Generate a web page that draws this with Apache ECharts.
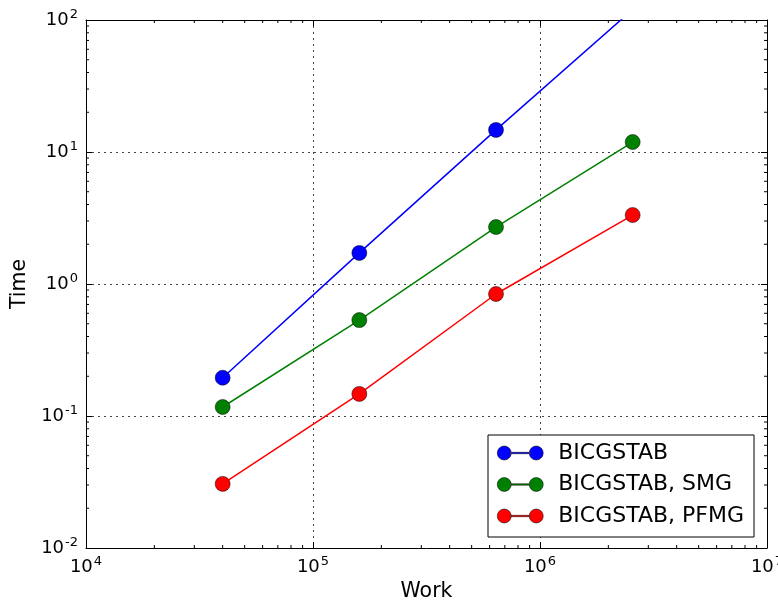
<!DOCTYPE html>
<html>
<head>
<meta charset="utf-8">
<script src="https://cdn.jsdelivr.net/npm/echarts@6/dist/echarts.min.js"></script>
<style>html,body{margin:0;padding:0;background:#fff}#c{width:778px;height:605px}</style>
</head>
<body>
<div id="c"></div>
<script>
const work = [40000, 160000, 640000, 2560000];
const seriesNames = ['BICGSTAB', 'BICGSTAB, SMG', 'BICGSTAB, PFMG'];
const timeBicgstab = [0.195, 1.72, 14.7, 120];
const timeSmg = [0.117, 0.533, 2.70, 11.9];
const timePfmg = [0.0306, 0.147, 0.84, 3.33];
const seriesColors = ['#0000ff', '#008000', '#ff0000'];
const xMinorTicks = [];
for (let e = 4; e < 7; e++) for (let m = 2; m <= 9; m++) xMinorTicks.push(m * Math.pow(10, e));
const yMinorTicks = [];
for (let e = -2; e < 2; e++) for (let m = 2; m <= 9; m++) yMinorTicks.push(m * Math.pow(10, e));

const FONT = 'DejaVu Sans';
const chart = echarts.init(document.getElementById('c'), null, {renderer: 'canvas'});

function supLabel(v) {
  const e = Math.round(Math.log10(v));
  return '{a|10}{b|' + e + '}';
}
const richLabel = {
  a: {fontFamily: FONT, fontSize: 18, lineHeight: 24, color: '#000'},
  b: {fontFamily: FONT, fontSize: 13, lineHeight: 13, color: '#000', verticalAlign: 'top', padding: [0, 0, 0, 1]}
};

const X0 = 1e4, X1 = 1e7, Y0 = 1e-2, Y1 = 1e2;
const baseAxis = {
  type: 'log', logBase: 10,
  axisLine: {show: true, onZero: false, lineStyle: {color: '#000', width: 1}},
  axisTick: {show: true, inside: true, length: 6, lineStyle: {color: '#000'}},
};

const data = [timeBicgstab, timeSmg, timePfmg];
const lineSeries = data.map((arr, i) => ({
  name: seriesNames[i], type: 'line',
  data: work.map((w, j) => [w, arr[j]]),
  symbol: 'circle', symbolSize: 15, clip: true,
  lineStyle: {color: seriesColors[i], width: 1.5},
  itemStyle: {color: seriesColors[i], borderColor: '#000', borderWidth: 0.5},
  z: 5
}));

const minorX = {
  type: 'custom', xAxisIndex: 0, yAxisIndex: 0, silent: true, clip: false,
  data: xMinorTicks.map(v => [v, 1]),
  renderItem: function (params, api) {
    const v = api.value(0);
    const b = api.coord([v, Y0]);
    const t = api.coord([v, Y1]);
    return {type: 'group', children: [
      {type: 'line', shape: {x1: b[0], y1: b[1], x2: b[0], y2: b[1] - 3}, style: {stroke: '#000', lineWidth: 1}},
      {type: 'line', shape: {x1: t[0], y1: t[1], x2: t[0], y2: t[1] + 3}, style: {stroke: '#000', lineWidth: 1}}
    ]};
  }, z: 1
};
const minorY = {
  type: 'custom', xAxisIndex: 0, yAxisIndex: 0, silent: true, clip: false,
  data: yMinorTicks.map(v => [1e5, v]),
  renderItem: function (params, api) {
    const v = api.value(1);
    const l = api.coord([X0, v]);
    const r = api.coord([X1, v]);
    return {type: 'group', children: [
      {type: 'line', shape: {x1: l[0], y1: l[1], x2: l[0] + 3, y2: l[1]}, style: {stroke: '#000', lineWidth: 1}},
      {type: 'line', shape: {x1: r[0], y1: r[1], x2: r[0] - 3, y2: r[1]}, style: {stroke: '#000', lineWidth: 1}}
    ]};
  }, z: 1
};

const legendIcon = 'path://M0,7a7,7 0 1,0 14,0a7,7 0 1,0 -14,0ZM13,6.3h20v1.4h-20ZM32,7a7,7 0 1,0 14,0a7,7 0 1,0 -14,0Z';

chart.setOption({
  animation: false,
  backgroundColor: '#fff',
  grid: {left: 86, right: 11, top: 20, bottom: 57, containLabel: false, outerBoundsMode: 'none'},
  xAxis: [
    Object.assign({}, baseAxis, {
      position: 'bottom', min: X0, max: X1,
      name: 'Work', nameLocation: 'middle', nameGap: 32,
      nameTextStyle: {fontFamily: FONT, fontSize: 20.5, color: '#000'},
      axisLabel: {show: true, margin: 7, formatter: supLabel, rich: richLabel},
      splitLine: {show: true, lineStyle: {color: '#444', type: [2, 4], width: 1}}
    }),
    Object.assign({}, baseAxis, {
      position: 'top', min: X0, max: X1, gridIndex: 0,
      axisLabel: {show: false}, splitLine: {show: false}
    })
  ],
  yAxis: [
    Object.assign({}, baseAxis, {
      position: 'left', min: Y0, max: Y1,
      name: 'Time', nameLocation: 'middle', nameGap: 54,
      nameTextStyle: {fontFamily: FONT, fontSize: 20.5, color: '#000'},
      axisLabel: {show: true, margin: 8, formatter: supLabel, rich: richLabel},
      splitLine: {show: true, lineStyle: {color: '#444', type: [2, 4], width: 1}}
    }),
    Object.assign({}, baseAxis, {
      position: 'right', min: Y0, max: Y1, gridIndex: 0,
      axisLabel: {show: false}, splitLine: {show: false}
    })
  ],
  legend: {
    data: seriesNames,
    orient: 'vertical', left: 488, top: 435,
    padding: [7, 10, 10, 9], itemGap: 9.5,
    itemWidth: 46, itemHeight: 14,
    icon: legendIcon,
    backgroundColor: '#fff', borderColor: '#000', borderWidth: 1, borderRadius: 0,
    textStyle: {fontFamily: FONT, fontSize: 22, lineHeight: 22, color: '#000', padding: [0, 0, 0, 10]},
    itemStyle: {borderColor: '#000', borderWidth: 0.5},
    selectedMode: false
  },
  series: lineSeries.concat([minorX, minorY])
});
</script>
</body>
</html>
